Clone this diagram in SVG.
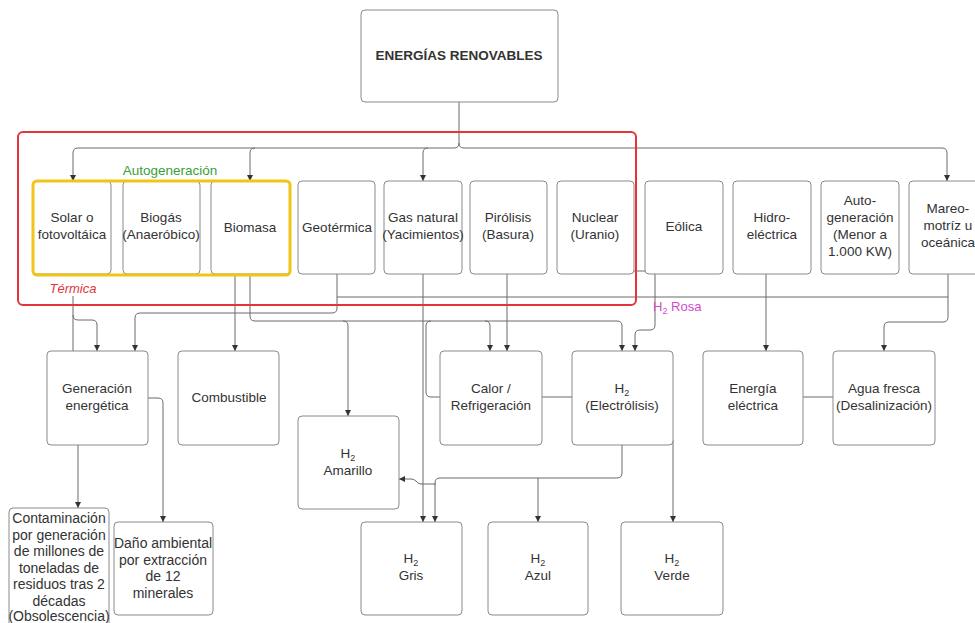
<svg xmlns="http://www.w3.org/2000/svg" width="975" height="623" viewBox="0 0 975 623">
<style>
.box{fill:#fff;stroke:#8a8a8a;stroke-width:1}
.t{font-family:"Liberation Sans",Arial,sans-serif;font-size:13.5px;fill:#333;text-anchor:middle}
.tb{font-family:"Liberation Sans",Arial,sans-serif;font-size:14px;fill:#333;text-anchor:middle}
.c{fill:none;stroke:#6a6a6a;stroke-width:1}
.a{marker-end:url(#arr)}
</style>
<defs>
<marker id="arr" markerUnits="userSpaceOnUse" markerWidth="6" markerHeight="6" refX="6" refY="3" orient="auto">
<path d="M0,0 L6,3 L0,6 z" fill="#333"/>
</marker>
</defs>
<rect width="975" height="623" fill="#fff"/>

<g id="connectors">
<path class="c a" d="M459,102 V143 Q459,148 454,148 H78 Q73,148 73,153 V181"/>
<path class="c a" d="M255,148 Q250,148 250,153 V181"/>
<path class="c a" d="M428,148 Q423,148 423,153 V181"/>
<path class="c a" d="M459,143 Q459,148 464,148 H942 Q947,148 947,153 V181"/>
<path class="c" d="M73,296 V351"/>
<path class="c a" d="M73,315 Q73,320 78,320 H92 Q97,320 97,325 V351"/>
<path class="c a" d="M337,274 V308 Q337,313 332,313 H140 Q135,313 135,318 V351"/>
<path class="c" d="M337,297 H948"/>
<path class="c a" d="M235,274 V351"/>
<path class="c a" d="M250,274 V316 Q250,321 255,321 H343 Q348,321 348,326 V416"/>
<path class="c a" d="M343,321 H485 Q490,321 490,326 V351"/>
<path class="c a" d="M485,321 H617 Q622,321 622,326 V351"/>
<path class="c a" d="M507,274 V351"/>
<path class="c a" d="M423,274 V522"/>
<path class="c" d="M440,397 H431 Q426,397 426,392 V326 Q426,321 431,321"/>
<path class="c a" d="M634,271 H650 Q655,271 655,276 V325 Q655,330 650,330 H640 Q635,330 635,335 V351"/>
<path class="c a" d="M766,274 V351"/>
<path class="c a" d="M948,274 V317 Q948,322 943,322 H889 Q884,322 884,327 V351"/>
<path class="c" d="M803,397 H833"/>
<path class="c" d="M542,397 H572"/>
<path class="c a" d="M78,445 V508"/>
<path class="c a" d="M148,398 H158 Q163,398 163,403 V522"/>
<path class="c a" d="M622,445 V473 Q622,478 617,478 H440 Q435,478 435,483 V522"/>
<path class="c a" d="M538,478 V522"/>
<path class="c a" d="M436,484 H421 Q418,484 416,481 Q414,479 411,479 H399"/>
<path class="c a" d="M673,440 V522"/>
</g>

<g id="n-energias">
<rect class="box" x="361" y="10" width="197" height="92" rx="4"/>
<text class="t" x="459" y="60" font-weight="bold">ENERGÍAS RENOVABLES</text>
</g>

<rect id="grupo-termica" x="18" y="132" width="618" height="173" rx="5" fill="none" stroke="#e3343c" stroke-width="2"/>

<g id="n-solar">
<rect class="box" x="33" y="181" width="78" height="93" rx="4"/>
<text class="t" x="72" y="222">Solar o</text>
<text class="t" x="72" y="239">fotovoltáica</text>
</g>
<g id="n-biogas">
<rect class="box" x="123" y="181" width="77" height="93" rx="4"/>
<text class="t" x="161" y="222">Biogás</text>
<text class="t" x="161" y="239">(Anaeróbico)</text>
</g>
<g id="n-biomasa">
<rect class="box" x="211" y="181" width="79" height="93" rx="4"/>
<text class="t" x="250" y="232">Biomasa</text>
</g>
<rect id="grupo-autogeneracion" x="33" y="181" width="257" height="94" rx="4" fill="none" stroke="#f0c419" stroke-width="3"/>
<text x="170" y="175" font-family="Liberation Sans, Arial, sans-serif" font-size="13.5" fill="#3a9e3a" text-anchor="middle">Autogeneración</text>
<text x="73" y="293" font-family="Liberation Sans, Arial, sans-serif" font-size="13" font-style="italic" fill="#e3343c" text-anchor="middle">Térmica</text>

<g id="n-geotermica">
<rect class="box" x="298" y="181" width="77" height="93" rx="4"/>
<text class="t" x="337" y="232">Geotérmica</text>
</g>
<g id="n-gas">
<rect class="box" x="384" y="181" width="78" height="93" rx="4"/>
<text class="t" x="423" y="222">Gas natural</text>
<text class="t" x="423" y="239">(Yacimientos)</text>
</g>
<g id="n-pirolisis">
<rect class="box" x="470" y="181" width="77" height="93" rx="4"/>
<text class="t" x="508" y="222">Pirólisis</text>
<text class="t" x="508" y="239">(Basura)</text>
</g>
<g id="n-nuclear">
<rect class="box" x="557" y="181" width="77" height="93" rx="4"/>
<text class="t" x="595" y="222">Nuclear</text>
<text class="t" x="595" y="239">(Uranio)</text>
</g>
<g id="n-eolica">
<rect class="box" x="645" y="181" width="78" height="93" rx="4"/>
<text class="t" x="684" y="231">Eólica</text>
</g>
<g id="n-hidro">
<rect class="box" x="733" y="181" width="78" height="93" rx="4"/>
<text class="t" x="772" y="222">Hidro-</text>
<text class="t" x="772" y="239">eléctrica</text>
</g>
<g id="n-autogen">
<rect class="box" x="821" y="181" width="78" height="93" rx="4"/>
<text class="t" x="860" y="205">Auto-</text>
<text class="t" x="860" y="222">generación</text>
<text class="t" x="860" y="239">(Menor a</text>
<text class="t" x="860" y="256">1.000 KW)</text>
</g>
<g id="n-mareo">
<rect class="box" x="909" y="181" width="78" height="93" rx="4"/>
<text class="t" x="948" y="213">Mareo-</text>
<text class="t" x="948" y="230">motríz u</text>
<text class="t" x="948" y="247">oceánica</text>
</g>

<text x="653" y="311" font-family="Liberation Sans, Arial, sans-serif" font-size="13" fill="#d04ccc">H<tspan font-size="9" dy="3">2</tspan><tspan dy="-3"> Rosa</tspan></text>

<g id="n-generacion">
<rect class="box" x="47" y="351" width="101" height="94" rx="4"/>
<text class="t" x="97" y="393">Generación</text>
<text class="t" x="97" y="410">energética</text>
</g>
<g id="n-combustible">
<rect class="box" x="178" y="351" width="101" height="94" rx="4"/>
<text class="t" x="229" y="402">Combustible</text>
</g>
<g id="n-amarillo">
<rect class="box" x="298" y="416" width="101" height="93" rx="4"/>
<text class="t" x="348" y="458">H<tspan font-size="9" dy="3">2</tspan></text>
<text class="t" x="348" y="475">Amarillo</text>
</g>
<g id="n-calor">
<rect class="box" x="440" y="351" width="102" height="94" rx="4"/>
<text class="t" x="491" y="393">Calor /</text>
<text class="t" x="491" y="410">Refrigeración</text>
</g>
<g id="n-electrolisis">
<rect class="box" x="572" y="351" width="101" height="94" rx="4"/>
<text class="t" x="622" y="393">H<tspan font-size="9" dy="3">2</tspan></text>
<text class="t" x="622" y="410">(Electrólisis)</text>
</g>
<g id="n-energia">
<rect class="box" x="703" y="351" width="100" height="94" rx="4"/>
<text class="t" x="753" y="393">Energía</text>
<text class="t" x="753" y="410">eléctrica</text>
</g>
<g id="n-agua">
<rect class="box" x="833" y="351" width="102" height="94" rx="4"/>
<text class="t" x="884" y="393">Agua fresca</text>
<text class="t" x="884" y="410">(Desalinización)</text>
</g>

<g id="n-contaminacion">
<rect class="box" x="9" y="508" width="100" height="125" rx="4"/>
<text class="tb" x="59" y="523">Contaminación</text>
<text class="tb" x="59" y="539.5">por generación</text>
<text class="tb" x="59" y="556">de millones de</text>
<text class="tb" x="59" y="572.5">toneladas de</text>
<text class="tb" x="59" y="589">residuos tras 2</text>
<text class="tb" x="59" y="605.5">décadas</text>
<text class="tb" x="59" y="621">(Obsolescencia)</text>
</g>
<g id="n-dano">
<rect class="box" x="114" y="522" width="99" height="93" rx="4"/>
<text class="tb" x="163" y="548">Daño ambiental</text>
<text class="tb" x="163" y="564.5">por extracción</text>
<text class="tb" x="163" y="581">de 12</text>
<text class="tb" x="163" y="597.5">minerales</text>
</g>
<g id="n-gris">
<rect class="box" x="361" y="522" width="101" height="93" rx="4"/>
<text class="t" x="411" y="563">H<tspan font-size="9" dy="3">2</tspan></text>
<text class="t" x="411" y="580">Gris</text>
</g>
<g id="n-azul">
<rect class="box" x="488" y="522" width="100" height="93" rx="4"/>
<text class="t" x="538" y="563">H<tspan font-size="9" dy="3">2</tspan></text>
<text class="t" x="538" y="580">Azul</text>
</g>
<g id="n-verde">
<rect class="box" x="621" y="522" width="102" height="93" rx="4"/>
<text class="t" x="672" y="563">H<tspan font-size="9" dy="3">2</tspan></text>
<text class="t" x="672" y="580">Verde</text>
</g>
</svg>
